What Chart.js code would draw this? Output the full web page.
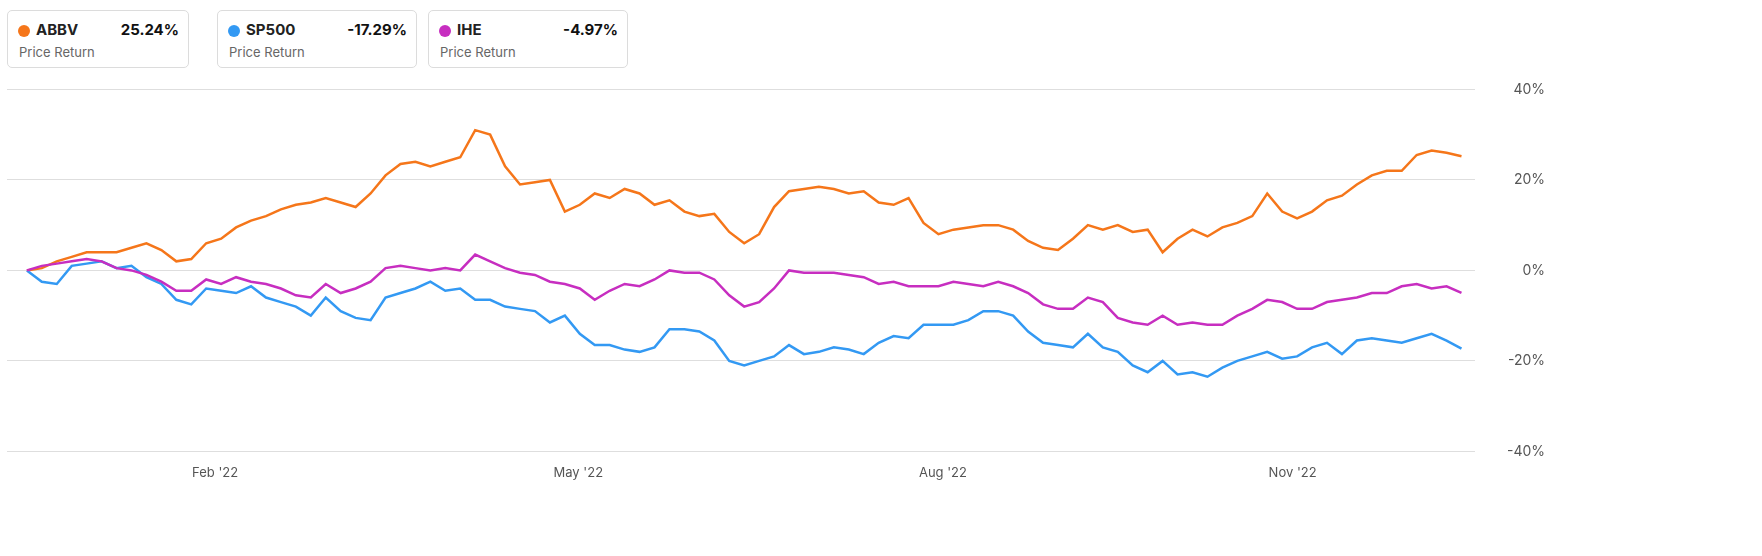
<!DOCTYPE html>
<html>
<head>
<meta charset="utf-8">
<script src="https://cdn.jsdelivr.net/npm/chart.js@4"></script>
<style>
  body { margin: 0; background: #fff; font-family: Inter, "Noto Sans", sans-serif; width: 1762px; height: 556px; overflow: hidden; position: relative; }
  .card { position: absolute; top: 10px; height: 58px; border: 1px solid #dcdcdc; border-radius: 5px; box-sizing: border-box; }
  .card .dot { position: absolute; left: 10px; top: 14px; width: 12px; height: 12px; border-radius: 50%; }
  .card .name { position: absolute; left: 28px; top: 9px; font-size: 15px; font-weight: 700; color: #222; }
  .card .val { position: absolute; right: 9px; top: 9px; font-size: 15px; font-weight: 700; color: #111; }
  .card .sub { position: absolute; left: 11px; top: 33px; font-size: 13px; color: #666; }
  #wrap { position: absolute; left: 0; top: 65px; width: 1545px; height: 422px; }
</style>
</head>
<body>
<div id="cards"></div>
<div id="wrap"><canvas id="chart"></canvas></div>
<script>
// ── Data (percent price return, sampled evenly across 2022) ─────
var seriesNames = ['ABBV', 'SP500', 'IHE'];
var seriesColors = ['#f5761a', '#3399f3', '#c72ec0'];
var finalReturns = ['25.24%', '-17.29%', '-4.97%'];

var abbv = [0, 0.5, 2, 3, 4, 4, 4, 5, 6, 4.5, 2, 2.5, 6, 7, 9.5, 11, 12, 13.5, 14.5, 15,
  16, 15, 14, 17, 21, 23.5, 24, 23, 24, 25, 31, 30, 23, 19, 19.5, 20, 13, 14.5, 17, 16,
  18, 17, 14.5, 15.5, 13, 12, 12.5, 8.5, 6, 8, 14, 17.5, 18, 18.5, 18, 17, 17.5, 15, 14.5, 16,
  10.5, 8, 9, 9.5, 10, 10, 9, 6.5, 5, 4.5, 7, 10, 9, 10, 8.5, 9, 4, 7, 9, 7.5,
  9.5, 10.5, 12, 17, 13, 11.5, 13, 15.5, 16.5, 19, 21, 22, 22, 25.5, 26.5, 26, 25.24];

var sp500 = [0, -2.5, -3, 1, 1.5, 2, 0.5, 1, -1.5, -3, -6.5, -7.5, -4, -4.5, -5, -3.5, -6, -7, -8, -10,
  -6, -9, -10.5, -11, -6, -5, -4, -2.5, -4.5, -4, -6.5, -6.5, -8, -8.5, -9, -11.5, -10, -14, -16.5, -16.5,
  -17.5, -18, -17, -13, -13, -13.5, -15.5, -20, -21, -20, -19, -16.5, -18.5, -18, -17, -17.5, -18.5, -16, -14.5, -15,
  -12, -12, -12, -11, -9, -9, -10, -13.5, -16, -16.5, -17, -14, -17, -18, -21, -22.5, -20, -23, -22.5, -23.5,
  -21.5, -20, -19, -18, -19.5, -19, -17, -16, -18.5, -15.5, -15, -15.5, -16, -15, -14, -15.5, -17.29];

var ihe = [0, 1, 1.5, 2, 2.5, 2, 0.5, 0, -1, -2.5, -4.5, -4.5, -2, -3, -1.5, -2.5, -3, -4, -5.5, -6,
  -3, -5, -4, -2.5, 0.5, 1, 0.5, 0, 0.5, 0, 3.5, 2, 0.5, -0.5, -1, -2.5, -3, -4, -6.5, -4.5,
  -3, -3.5, -2, 0, -0.5, -0.5, -2, -5.5, -8, -7, -4, 0, -0.5, -0.5, -0.5, -1, -1.5, -3, -2.5, -3.5,
  -3.5, -3.5, -2.5, -3, -3.5, -2.5, -3.5, -5, -7.5, -8.5, -8.5, -6, -7, -10.5, -11.5, -12, -10, -12, -11.5, -12,
  -12, -10, -8.5, -6.5, -7, -8.5, -8.5, -7, -6.5, -6, -5, -5, -3.5, -3, -4, -3.5, -4.97];

// x-axis month labels and their position in sample units
var monthLabels = ["Feb '22", "May '22", "Aug '22", "Nov '22"];
var monthPos = [12.6, 36.9, 61.3, 84.7];
var yTicks = [-40, -20, 0, 20, 40];

// ── Legend cards ────────────────────────────────────────────────
var cardLeft = [7, 217, 428];
var cardWidth = [182, 200, 200];
var cardsEl = document.getElementById('cards');
seriesNames.forEach(function (n, i) {
    var c = document.createElement('div');
    c.className = 'card';
    c.style.left = cardLeft[i] + 'px';
    c.style.width = cardWidth[i] + 'px';
    c.innerHTML = '<span class="dot" style="background:' + seriesColors[i] + '"></span>' +
        '<span class="name">' + n + '</span><span class="val">' + finalReturns[i] + '</span>' +
        '<span class="sub">Price Return</span>';
    cardsEl.appendChild(c);
});

// ── Chart ───────────────────────────────────────────────────────
function toPoints(arr) {
    return arr.map(function (v, i) { return { x: i, y: v }; });
}
var allData = [abbv, sp500, ihe];

new Chart(document.getElementById('chart'), {
    type: 'line',
    data: {
        datasets: allData.map(function (d, i) {
            return {
                label: seriesNames[i],
                data: toPoints(d),
                borderColor: seriesColors[i],
                borderWidth: 2.5,
                pointRadius: 0,
                tension: 0,
                order: 2 - i
            };
        })
    },
    options: {
        responsive: true,
        maintainAspectRatio: false,
        animation: false,
        layout: { padding: { left: 7, top: 0, bottom: 0 } },
        plugins: { legend: { display: false }, tooltip: { enabled: false } },
        scales: {
            x: {
                type: 'linear',
                min: -1.33,
                max: 96.9,
                afterBuildTicks: function (axis) {
                    axis.ticks = monthPos.map(function (p) { return { value: p }; });
                },
                ticks: {
                    autoSkip: false,
                    maxRotation: 0,
                    color: '#555',
                    font: { size: 13, family: 'Inter, sans-serif' },
                    padding: 6,
                    callback: function (v) {
                        var k = monthPos.indexOf(v);
                        return k >= 0 ? monthLabels[k] : '';
                    }
                },
                grid: { display: false },
                border: { display: false }
            },
            y: {
                position: 'right',
                min: -40,
                max: 40,
                afterBuildTicks: function (axis) {
                    axis.ticks = yTicks.map(function (v) { return { value: v }; });
                },
                ticks: {
                    color: '#555',
                    crossAlign: 'far',
                    padding: 16,
                    font: { size: 14, family: 'Inter, sans-serif' },
                    callback: function (v) { return v + '%'; }
                },
                grid: { color: '#dedede', lineWidth: 1, drawTicks: false },
                border: { display: false }
            }
        }
    }
});
</script>
</body>
</html>
